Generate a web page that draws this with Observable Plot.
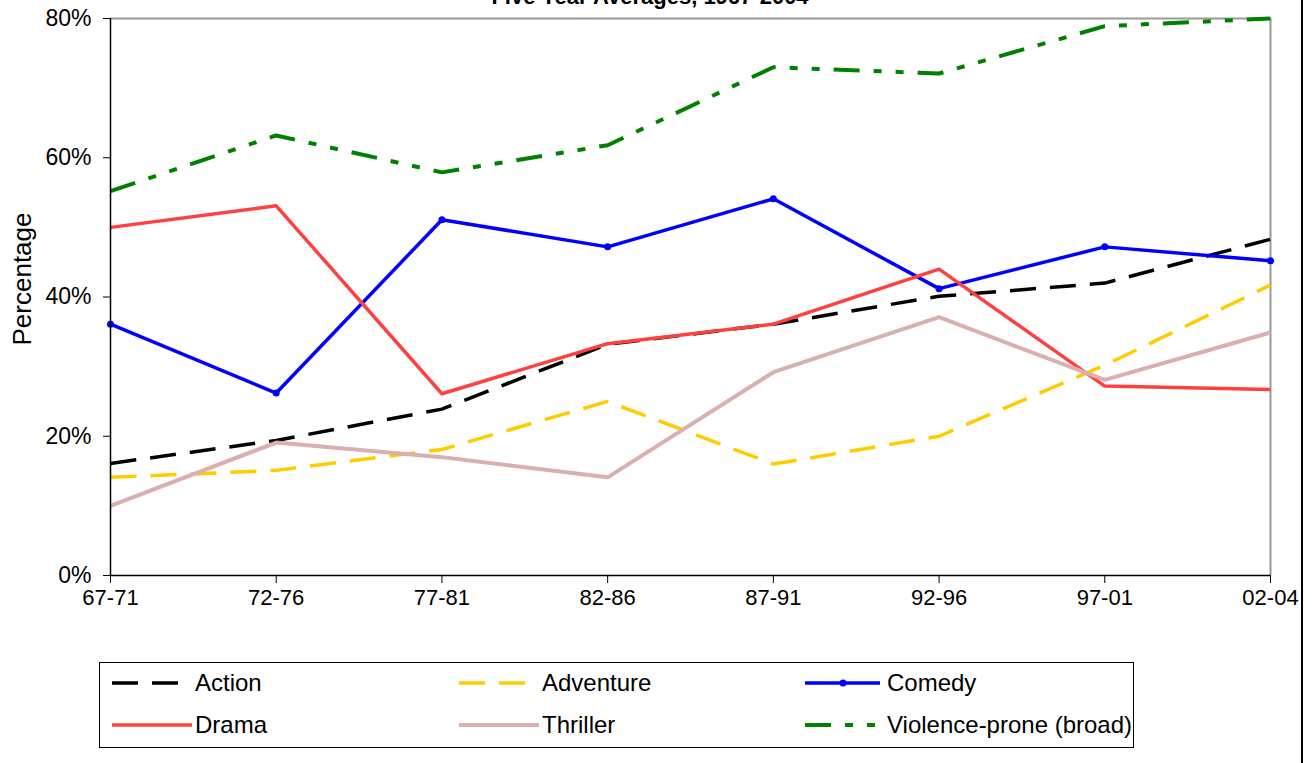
<!DOCTYPE html>
<html>
<head>
<meta charset="utf-8">
<script src="https://cdn.jsdelivr.net/npm/d3@7"></script>
<script src="https://cdn.jsdelivr.net/npm/@observablehq/plot@0.6"></script>
<style>
  html, body { margin: 0; padding: 0; background: #fff; }
  body { width: 1316px; height: 763px; overflow: hidden; position: relative;
         font-family: "Liberation Sans", Arial, sans-serif; color: #000; }
  #title { position: absolute; left: 0; width: 1300px; top: -14px; text-align: center;
           font-weight: bold; font-size: 22px; line-height: 22px; }
  #chart { position: absolute; left: 0; top: 0; }
  #ylabel { position: absolute; left: 22px; top: 279px; transform: translate(-50%, -50%) rotate(-90deg);
            font-size: 26px; white-space: nowrap; }
  #legend { position: absolute; left: 99px; top: 662px; width: 1035px; height: 86px;
            border: 1px solid #000; box-sizing: border-box; }
  .item { position: absolute; height: 30px; }
  .item svg { position: absolute; left: 0; top: 0; }
  .item span { position: absolute; top: 0; font-size: 24px; line-height: 30px; white-space: nowrap; }
  #frameR { position: absolute; left: 1301px; top: 0; width: 2px; height: 763px; background: #000; }
</style>
</head>
<body>
<div id="title">Five Year Averages, 1967-2004</div>
<div id="chart"></div>
<div id="ylabel">Percentage</div>
<div id="legend"></div>
<div id="frameR"></div>
<script>
// ---- data ----
const periods = ["67-71", "72-76", "77-81", "82-86", "87-91", "92-96", "97-01", "02-04"];
const yTicks = [0, 20, 40, 60, 80];
const action    = [16.1, 19.4, 23.9, 33.2, 36.1, 40.1, 42.0, 48.3];
const adventure = [14.1, 15.1, 18.1, 25.0, 16.0, 20.0, 30.2, 41.7];
const comedy    = [36.1, 26.2, 51.1, 47.2, 54.1, 41.2, 47.2, 45.2];
const drama     = [50.0, 53.1, 26.1, 33.3, 36.1, 44.0, 27.2, 26.7];
const thriller  = [10.0, 19.1, 17.0, 14.1, 29.2, 37.1, 28.1, 34.9];
const violence  = [55.2, 63.2, 57.9, 61.8, 73.0, 72.1, 78.9, 80.0];

const seriesNames = ["Action", "Adventure", "Comedy", "Drama", "Thriller", "Violence-prone (broad)"];
const seriesValues = [action, adventure, comedy, drama, thriller, violence];

const styles = {
  "Action":                 {stroke: "#000000", strokeWidth: 3.5, strokeDasharray: "26,14"},
  "Adventure":              {stroke: "#FFCC00", strokeWidth: 3.5, strokeDasharray: "26,14"},
  "Comedy":                 {stroke: "#0000FF", strokeWidth: 3.5, strokeDasharray: null},
  "Drama":                  {stroke: "#FF4040", strokeWidth: 3.5, strokeDasharray: null},
  "Thriller":               {stroke: "#D9AFAF", strokeWidth: 4,   strokeDasharray: null},
  "Violence-prone (broad)": {stroke: "#008000", strokeWidth: 4,   strokeDasharray: "26,14,8,14,8,14"}
};

const rows = [];
seriesNames.forEach((name, k) => {
  seriesValues[k].forEach((v, i) => rows.push({series: name, period: periods[i], value: v}));
});

const lineMarks = seriesNames.map(name => Plot.line(rows.filter(d => d.series === name), {
  x: "period", y: "value",
  stroke: styles[name].stroke, strokeWidth: styles[name].strokeWidth,
  strokeDasharray: styles[name].strokeDasharray || undefined,
  strokeLinecap: "butt", strokeLinejoin: "round"
}));

const chart = Plot.plot({
  width: 1316, height: 615,
  marginLeft: 110, marginRight: 46, marginTop: 18, marginBottom: 40,
  x: {type: "point", domain: periods, padding: 0, round: false},
  y: {domain: [0, 80]},
  style: {fontFamily: "'Liberation Sans', Arial, sans-serif", fontSize: "22px", color: "#000", background: "transparent", overflow: "visible"},
  marks: [
    Plot.ruleY([80], {stroke: "#999", strokeWidth: 2}),
    Plot.ruleX([periods[periods.length - 1]], {stroke: "#999", strokeWidth: 2}),
    ...lineMarks,
    Plot.dot(rows.filter(d => d.series === "Comedy"), {x: "period", y: "value", r: 3.5, fill: "#0000FF", stroke: null}),
    Plot.axisY({ticks: yTicks, tickFormat: d => d + "%", tickSize: 7, tickPadding: 12, label: null, fontSize: 23}),
    Plot.axisX({tickSize: 8, tickPadding: 6, label: null, fontSize: 22}),
    Plot.ruleX([periods[0]], {stroke: "#000", strokeWidth: 1.5}),
    Plot.ruleY([0], {stroke: "#000", strokeWidth: 1.5})
  ]
});
document.getElementById("chart").appendChild(chart);

// ---- legend ----
const legendPos = [
  {name: "Action",                 sx: 112, tx: 195, cy: 683},
  {name: "Adventure",              sx: 459, tx: 542, cy: 683},
  {name: "Comedy",                 sx: 805, tx: 887, cy: 683},
  {name: "Drama",                  sx: 112, tx: 195, cy: 725},
  {name: "Thriller",               sx: 459, tx: 542, cy: 725},
  {name: "Violence-prone (broad)", sx: 805, tx: 887, cy: 725}
];
const legend = d3.select("#legend");
legendPos.forEach(p => {
  const st = styles[p.name];
  const left = p.sx - 100, top = p.cy - 15 - 663;
  const item = legend.append("div").attr("class", "item").style("left", left + "px").style("top", top + "px");
  const swW = (p.name === "Comedy" || p.name === "Violence-prone (broad)") ? 75 : 80;
  const svg = item.append("svg").attr("width", swW).attr("height", 30);
  svg.append("line").attr("x1", 0).attr("x2", swW).attr("y1", 15).attr("y2", 15)
    .attr("stroke", st.stroke).attr("stroke-width", st.strokeWidth)
    .attr("stroke-dasharray", st.strokeDasharray);
  if (p.name === "Comedy") svg.append("circle").attr("cx", 38).attr("cy", 15).attr("r", 3.5).attr("fill", st.stroke);
  item.append("span").style("left", (p.tx - p.sx) + "px").text(p.name);
});
</script>
</body>
</html>
